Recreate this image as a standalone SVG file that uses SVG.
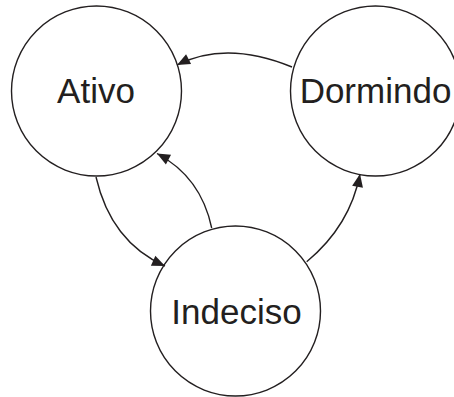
<svg xmlns="http://www.w3.org/2000/svg" width="454" height="397" viewBox="0 0 454 397">
<style>
.node circle{fill:#fff;stroke:#231f20;stroke-width:1.4}
.node text{font-family:"Liberation Sans",Arial,sans-serif;font-size:35px;fill:#231f20;text-anchor:middle}
.edge{fill:none;stroke:#231f20;stroke-width:1.4;marker-end:url(#arr)}
</style>
<defs>
<marker id="arr" markerUnits="userSpaceOnUse" markerWidth="16" markerHeight="14" viewBox="-14 -7 16 14" refX="0" refY="0" orient="auto">
<path d="M0,0 L-13,-5.5 L-13,5.5 Z" fill="#231f20"/>
</marker>
</defs>
<rect width="454" height="397" fill="#fff"/>
<g id="ativo" class="node"><circle cx="96.5" cy="91" r="85"/><text x="96" y="103">Ativo</text></g>
<g id="dormindo" class="node"><circle cx="375.5" cy="91" r="85"/><text x="375.5" y="102.5">Dormindo</text></g>
<g id="indeciso" class="node"><circle cx="235.5" cy="311" r="85"/><text x="236.5" y="323.5">Indeciso</text></g>
<g id="connectors">
<path class="edge" d="M292,67 Q226,40 177,65"/>
<path class="edge" d="M211.7,228 Q201,177 157,153.5"/>
<path class="edge" d="M96,177 Q111,242 165,266"/>
<path class="edge" d="M306.7,261.7 Q350,226 360,174"/>
</g>
</svg>
